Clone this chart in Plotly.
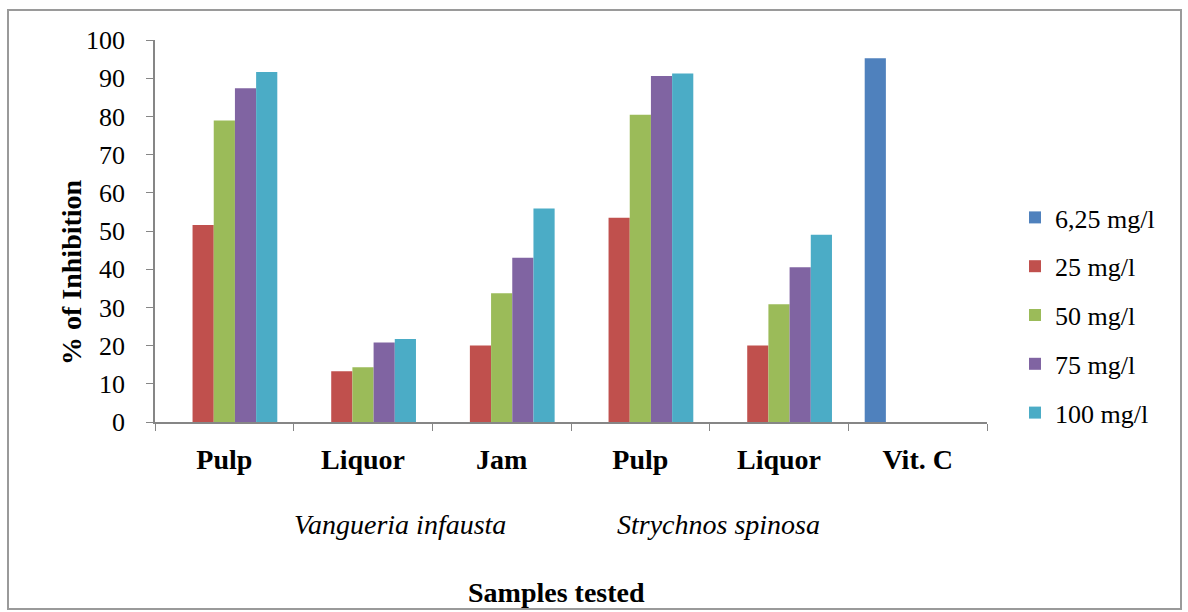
import plotly.graph_objects as go

# Samples (unique keys) and the labels shown under each group
sample_keys = ["VI Pulp", "VI Liquor", "VI Jam", "SS Pulp", "SS Liquor", "Vit. C"]
tick_labels = ["Pulp", "Liquor", "Jam", "Pulp", "Liquor", "Vit. C"]

# % of inhibition per concentration
conc_labels = ["6,25 mg/l", "25 mg/l", "50 mg/l", "75 mg/l", "100 mg/l"]
inh_6_25 = [None, None, None, None, None, 95.2]
inh_25 = [51.6, 13.3, 20.0, 53.5, 20.0, None]
inh_50 = [78.9, 14.3, 33.7, 80.4, 30.8, None]
inh_75 = [87.4, 20.8, 43.0, 90.6, 40.5, None]
inh_100 = [91.6, 21.7, 55.9, 91.2, 49.0, None]

y_ticks = list(range(0, 101, 10))

colors = ["#4F81BD", "#C0504D", "#9BBB59", "#8064A2", "#4BACC6"]
series = [inh_6_25, inh_25, inh_50, inh_75, inh_100]

FONT = "Liberation Serif"
AXIS_GREY = "#868686"


def regular(size, **extra):
    return dict(family=FONT, size=size, weight=400, color="black", **extra)


def bold(size):
    return dict(family=FONT, size=size, weight=600, color="black")


fig = go.Figure()
for i, (name, vals, col) in enumerate(zip(conc_labels, series, colors)):
    fig.add_trace(go.Bar(
        x=sample_keys, y=vals, name=name,
        marker=dict(color=col, line=dict(width=0)),
        legendgroup=f"g{i}",
    ))

# plot area in pixels: x 155..987, y 40..422
L, R, T, B = 155, 1188 - 987, 40, 612 - 422
W = 1188 - L - R
H = 612 - T - B


def px_x(px):
    return (px - L) / W


def px_y(py):
    return (612 - B - py) / H


fig.update_layout(
    width=1188, height=612,
    margin=dict(l=L, r=R, t=T, b=B),
    paper_bgcolor="white", plot_bgcolor="white",
    barmode="group", bargap=0.236, bargroupgap=0,
    showlegend=True,
    legend=dict(
        x=px_x(1015), xanchor="left",
        y=px_y(194), yanchor="top",
        font=regular(26),
        traceorder="grouped", tracegroupgap=12,
        bgcolor="rgba(0,0,0,0)",
    ),
    xaxis=dict(
        type="category",
        tickmode="array", tickvals=sample_keys, ticktext=tick_labels,
        tickson="boundaries", ticks="outside", ticklen=7, tickcolor=AXIS_GREY,
        showline=True, linecolor=AXIS_GREY, linewidth=1.5,
        showgrid=False, zeroline=False,
        tickfont=bold(28),
        ticklabelstandoff=12,
    ),
    yaxis=dict(
        range=[0, 100], tickmode="array", tickvals=y_ticks,
        ticks="outside", ticklen=7, tickcolor=AXIS_GREY,
        showline=True, linecolor=AXIS_GREY, linewidth=1.5,
        showgrid=False, zeroline=False,
        tickfont=regular(26),
        ticklabelstandoff=16,
    ),
    annotations=[
        dict(text="% of Inhibition", textangle=-90, xref="paper", yref="paper",
             x=px_x(71), y=px_y(272), xanchor="center", yanchor="middle",
             showarrow=False, font=bold(28)),
        dict(text="<i>Vangueria infausta</i>", xref="paper", yref="paper",
             x=px_x(400), y=px_y(524), xanchor="center", yanchor="middle",
             showarrow=False, font=regular(28)),
        dict(text="<i>Strychnos spinosa</i>", xref="paper", yref="paper",
             x=px_x(718), y=px_y(524), xanchor="center", yanchor="middle",
             showarrow=False, font=regular(28)),
        dict(text="Samples tested", xref="paper", yref="paper",
             x=px_x(556), y=px_y(592), xanchor="center", yanchor="middle",
             showarrow=False, font=bold(28)),
    ],
    shapes=[
        dict(type="rect", xref="paper", yref="paper",
             x0=px_x(8), x1=px_x(1181), y0=px_y(609), y1=px_y(10),
             line=dict(color="#9a9a9a", width=2), fillcolor="rgba(0,0,0,0)",
             layer="below"),
    ],
)

fig.write_html("out.html")
